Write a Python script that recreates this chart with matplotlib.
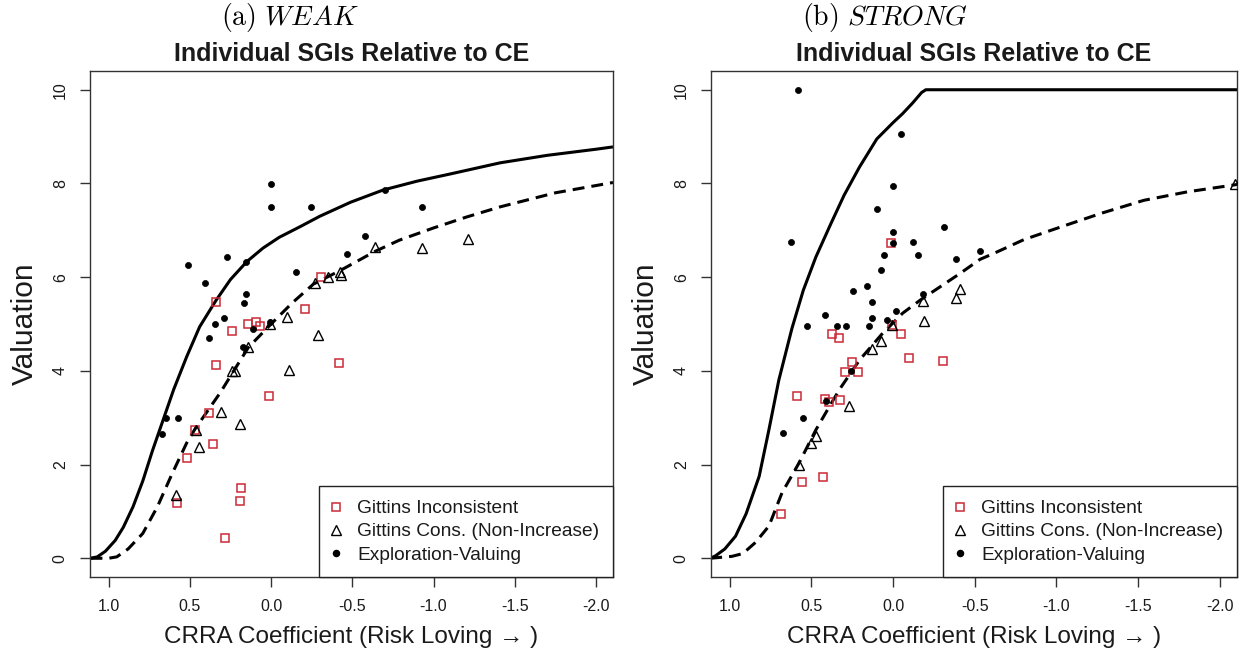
import matplotlib
matplotlib.use("Agg")
import matplotlib.pyplot as plt
from matplotlib.lines import Line2D

plt.rcParams['font.family'] = ['Liberation Sans', 'DejaVu Sans']
plt.rcParams['mathtext.fontset'] = 'cm'

# ---------------- WEAK panel ----------------
weak_upper_c = [1.112, 1.07, 1.02, 0.96, 0.91, 0.85, 0.79, 0.73, 0.67, 0.60, 0.52, 0.44,
                0.34, 0.25, 0.15, 0.05, -0.05, -0.18, -0.30, -0.49, -0.69, -0.90, -1.10,
                -1.41, -1.70, -2.00, -2.105]
weak_upper_v = [0.0, 0.03, 0.15, 0.38, 0.66, 1.10, 1.65, 2.30, 2.90, 3.60, 4.30, 4.94,
                5.50, 5.95, 6.33, 6.62, 6.85, 7.08, 7.30, 7.60, 7.86, 8.05, 8.20,
                8.44, 8.60, 8.73, 8.78]
weak_lower_c = [1.112, 1.0, 0.95, 0.88, 0.79, 0.70, 0.61, 0.52, 0.47, 0.39, 0.31, 0.23,
                0.14, 0.0, -0.13, -0.26, -0.43, -0.64, -0.79, -1.0, -1.2, -1.41, -1.75, -2.105]
weak_lower_v = [0.0, 0.0, 0.03, 0.20, 0.53, 1.10, 1.80, 2.46, 2.75, 3.15, 3.55, 4.0,
                4.5, 5.0, 5.45, 5.85, 6.15, 6.55, 6.79, 7.05, 7.28, 7.50, 7.80, 8.02]

weak_incons_c = [0.34, 0.24, 0.14, 0.092, 0.068, -0.209, -0.305, -0.42, 0.34, 0.012,
                 0.385, 0.355, 0.47, 0.52, 0.58, 0.184, 0.19, 0.283]
weak_incons_v = [5.48, 4.86, 5.0, 5.04, 4.96, 5.32, 6.0, 4.16, 4.12, 3.46,
                 3.11, 2.44, 2.73, 2.14, 1.18, 1.49, 1.22, 0.43]
weak_cons_c = [-0.096, -0.29, -0.27, -0.35, -0.424, -0.43, -0.64, -0.93, -1.21, 0.006,
               0.14, 0.24, 0.22, -0.11, 0.31, 0.19, 0.46, 0.444, 0.584]
weak_cons_v = [5.16, 4.77, 5.88, 6.0, 6.1, 6.05, 6.64, 6.62, 6.82, 5.0,
               4.5, 4.0, 4.0, 4.02, 3.13, 2.86, 2.74, 2.37, 1.35]
weak_explore_c = [0.0, 0.0, -0.246, -0.70, -0.93, -0.58, -0.465, -0.154, 0.27, 0.154,
                  0.41, 0.155, 0.166, 0.289, 0.346, 0.385, 0.109, 0.174, 0.006, 0.65,
                  0.576, 0.67, 0.51]
weak_explore_v = [7.98, 7.49, 7.49, 7.87, 7.49, 6.87, 6.5, 6.1, 6.42, 6.32,
                  5.87, 5.64, 5.44, 5.13, 4.99, 4.7, 4.89, 4.5, 5.04, 2.99,
                  2.99, 2.65, 6.25]

# ---------------- STRONG panel ----------------
strong_upper_c = [1.12, 1.088, 1.03, 0.965, 0.90, 0.82, 0.76, 0.70, 0.62, 0.55, 0.473,
                  0.38, 0.30, 0.206, 0.10, 0.0, -0.058, -0.12, -0.174, -0.20, -2.11]
strong_upper_v = [0.0, 0.05, 0.20, 0.47, 0.95, 1.75, 2.75, 3.80, 4.90, 5.72, 6.43,
                  7.15, 7.75, 8.35, 8.95, 9.30, 9.49, 9.72, 9.94, 10.0, 10.0]
strong_lower_c = [1.12, 0.988, 0.92, 0.842, 0.76, 0.68, 0.575, 0.473, 0.40, 0.329, 0.206,
                  0.07, -0.058, -0.17, -0.286, -0.41, -0.532, -0.612, -0.80, -1.025,
                  -1.28, -1.535, -1.80, -2.11]
strong_lower_v = [0.0, 0.04, 0.10, 0.34, 0.69, 1.40, 2.04, 2.74, 3.18, 3.60, 4.23,
                  4.78, 5.23, 5.52, 5.79, 6.08, 6.38, 6.50, 6.80, 7.07,
                  7.37, 7.64, 7.82, 7.98]

strong_incons_c = [0.011, 0.374, 0.329, -0.046, 0.005, -0.10, -0.306, 0.251, 0.292, 0.214,
                   0.586, 0.42, 0.39, 0.325, 0.555, 0.432, 0.688]
strong_incons_v = [6.72, 4.79, 4.71, 4.78, 4.98, 4.27, 4.2, 4.18, 3.97, 3.97,
                   3.47, 3.4, 3.33, 3.37, 1.62, 1.74, 0.94]
strong_cons_c = [-0.41, -0.385, -0.18, -0.188, 0.005, 0.077, 0.132, 0.268, 0.473, 0.50,
                 0.575, -2.09]
strong_cons_v = [5.74, 5.56, 5.49, 5.06, 4.98, 4.64, 4.47, 3.26, 2.62, 2.47,
                 2.0, 7.99]
strong_explore_c = [0.001, 0.10, 0.001, 0.001, -0.122, -0.31, 0.625, 0.058, -0.155, 0.075,
                    -0.532, -0.385, 0.247, 0.157, 0.132, 0.132, 0.42, 0.53, 0.346, 0.288,
                    0.149, -0.015, 0.036, -0.18, 0.257, 0.41, 0.55, 0.674, -0.046, 0.58]
strong_explore_v = [7.95, 7.46, 6.96, 6.73, 6.75, 7.07, 6.76, 6.47, 6.47, 6.16,
                    6.56, 6.39, 5.71, 5.82, 5.47, 5.13, 5.2, 4.96, 4.96, 4.96,
                    4.96, 5.28, 5.09, 5.64, 4.0, 3.35, 2.99, 2.67, 9.06, 10.0]

x_ticks = [1.0, 0.5, 0.0, -0.5, -1.0, -1.5, -2.0]
x_ticklabels = ['1.0', '0.5', '0.0', '-0.5', '-1.0', '-1.5', '-2.0']
y_ticks = [0, 2, 4, 6, 8, 10]
y_ticklabels = ['0', '2', '4', '6', '8', '10']

legend_labels = ['Gittins Inconsistent', 'Gittins Cons. (Non-Increase)', 'Exploration-Valuing']
main_title = 'Individual SGIs Relative to CE'
x_label = 'CRRA Coefficient (Risk Loving \u2192 )'
y_label = 'Valuation'

RED = '#cc2a36'
INK = '#1a1a1a'

W, H = 1242, 655
fig = plt.figure(figsize=(W / 100, H / 100), dpi=100)


def px_axes(x0, x1, y0, y1):
    return fig.add_axes([x0 / W, 1 - y1 / H, (x1 - x0) / W, (y1 - y0) / H])


def draw_panel(ax, upper_c, upper_v, lower_c, lower_v,
               inc_c, inc_v, con_c, con_v, exp_c, exp_v):
    ax.plot(upper_c, upper_v, color='black', lw=2.2, solid_capstyle='butt', zorder=2)
    ax.plot(lower_c, lower_v, color='black', lw=2.2, linestyle=(0, (3.9, 2.3)),
            dash_capstyle='butt', zorder=2)
    ax.plot(inc_c, inc_v, ls='none', marker='s', ms=5.8, mfc='none', mec=RED,
            mew=1.1, zorder=3)
    ax.plot(con_c, con_v, ls='none', marker='^', ms=6.8, mfc='none', mec='black',
            mew=1.0, zorder=3)
    ax.plot(exp_c, exp_v, ls='none', marker='o', ms=4.4, mfc='black', mec='black',
            mew=0.5, zorder=3)

    ax.set_xlim(1.115, -2.105)
    ax.set_ylim(-0.4, 10.4)
    ax.set_xticks(x_ticks)
    ax.set_xticklabels(x_ticklabels)
    ax.set_yticks(y_ticks)
    ax.set_yticklabels(y_ticklabels, rotation=90, va='center')
    ax.tick_params(axis='both', direction='out', length=7, width=1.0, color='#333333',
                   labelsize=11.5, labelcolor=INK)
    ax.tick_params(axis='x', pad=9)
    ax.tick_params(axis='y', pad=9)
    for s in ax.spines.values():
        s.set_color('#333333')
        s.set_linewidth(1.0)

    ax.set_title(main_title, fontsize=18, fontweight='bold', color=INK, pad=7)
    ax.set_xlabel(x_label, fontsize=17.5, color=INK)
    ax.xaxis.set_label_coords(0.5, -0.118)
    ax.xaxis.label.set_va('center')
    ax.set_ylabel(y_label, fontsize=21.5, color=INK)
    ax.yaxis.set_label_coords(-0.124, 0.5)
    ax.yaxis.label.set_va('center')

    handles = [
        Line2D([], [], ls='none', marker='s', ms=5.8, mfc='none', mec=RED, mew=1.1),
        Line2D([], [], ls='none', marker='^', ms=6.8, mfc='none', mec='black', mew=1.0),
        Line2D([], [], ls='none', marker='o', ms=4.4, mfc='black', mec='black'),
    ]
    leg = ax.legend(handles, legend_labels, loc='lower right', bbox_to_anchor=(1, 0),
                    borderaxespad=0, fancybox=False, framealpha=1, edgecolor='#222222',
                    fontsize=13.8, handlelength=0.4, handletextpad=0.9,
                    labelspacing=0.3, borderpad=0.7)
    leg.get_frame().set_linewidth(1.0)
    for t in leg.get_texts():
        t.set_color(INK)


ax_weak = px_axes(90, 613, 71, 577)
draw_panel(ax_weak, weak_upper_c, weak_upper_v, weak_lower_c, weak_lower_v,
           weak_incons_c, weak_incons_v, weak_cons_c, weak_cons_v,
           weak_explore_c, weak_explore_v)

ax_strong = px_axes(711, 1237, 71, 577)
draw_panel(ax_strong, strong_upper_c, strong_upper_v, strong_lower_c, strong_lower_v,
           strong_incons_c, strong_incons_v, strong_cons_c, strong_cons_v,
           strong_explore_c, strong_explore_v)

fig.text(290 / W, 1 - 17 / H, r'$\mathrm{(a)}\ WEAK$', ha='center', va='center',
         fontsize=20, color='black')
fig.text(885 / W, 1 - 17 / H, r'$\mathrm{(b)}\ STRONG$', ha='center', va='center',
         fontsize=20, color='black')

fig.savefig('out.png', dpi=100, facecolor='white')
